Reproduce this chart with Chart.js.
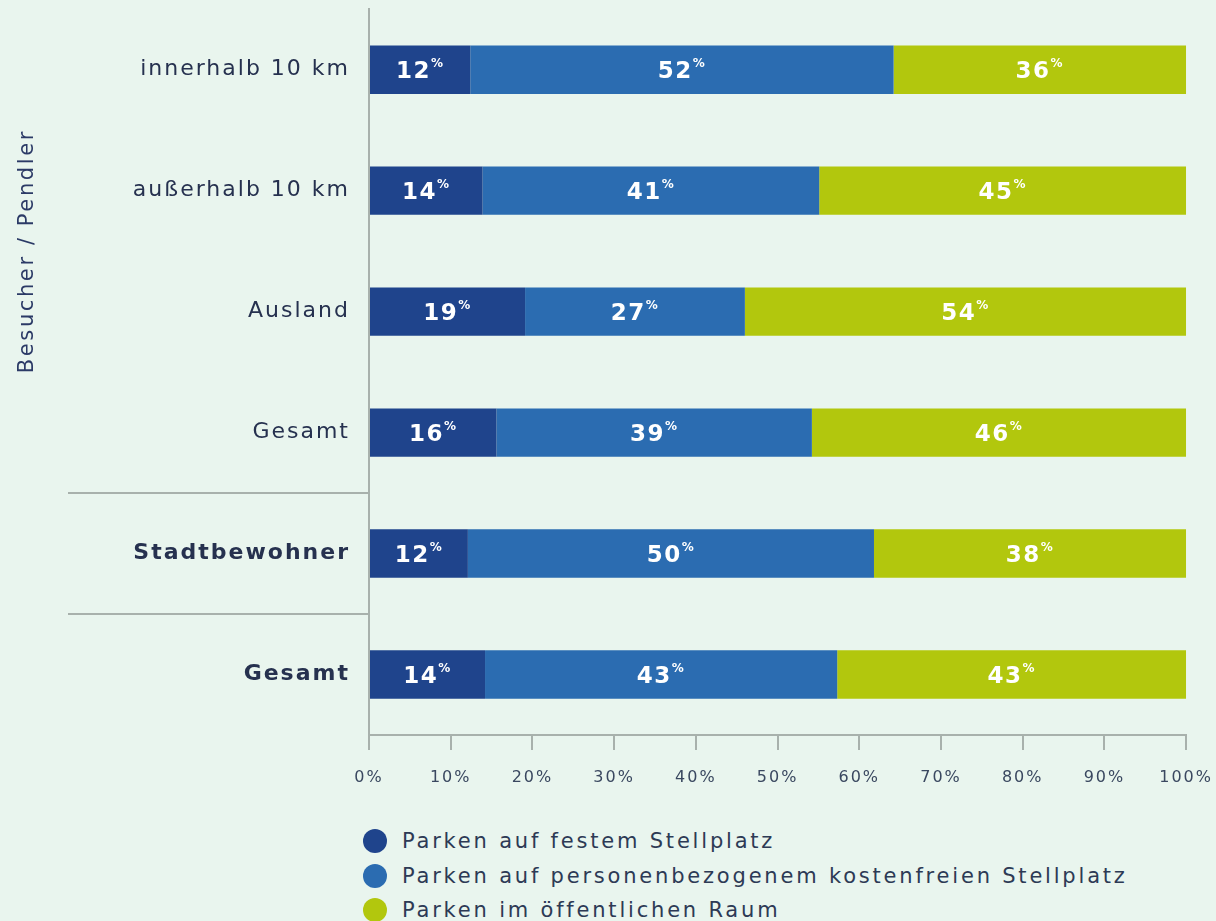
<!DOCTYPE html>
<html lang="de">
<head>
<meta charset="utf-8">
<title>Parkverhalten</title>
<script src="https://cdn.jsdelivr.net/npm/chart.js@4.4.1/dist/chart.umd.min.js"></script>
<style>
  html, body { margin: 0; padding: 0; background: #e9f5ee; }
  body { width: 1216px; height: 921px; position: relative; overflow: hidden; font-family: "DejaVu Sans", sans-serif; }
  #wrap { position: absolute; left: 0; top: -15px; width: 1231px; height: 818px; }
  #legend { position: absolute; left: 363px; top: 824px; list-style: none; margin: 0; padding: 0; }
  #legend li { display: flex; align-items: center; height: 34.5px; font-size: 21px; letter-spacing: 2.8px; color: #2d3a55; }
  #legend .dot { width: 24px; height: 24px; border-radius: 50%; margin-right: 15px; flex: none; }
</style>
</head>
<body>
<div id="wrap"><canvas id="chart" width="1231" height="818"></canvas></div>
<ul id="legend"></ul>
<script>
const categories = ["innerhalb 10 km", "außerhalb 10 km", "Ausland", "Gesamt", "Stadtbewohner", "Gesamt"];
const seriesNames = ["Parken auf festem Stellplatz", "Parken auf personenbezogenem kostenfreien Stellplatz", "Parken im öffentlichen Raum"];
const festerStellplatz = [12.4, 13.9, 19.1, 15.6, 12.1, 14.2];
const kostenfreierStellplatz = [51.8, 41.2, 26.9, 38.6, 49.7, 43.1];
const oeffentlicherRaum = [35.8, 44.9, 54.0, 45.8, 38.2, 42.7];
const xTicks = [0, 10, 20, 30, 40, 50, 60, 70, 80, 90, 100];
const groupTitle = "Besucher / Pendler";

const colors = ["#1f448c", "#2b6cb1", "#b2c70d"];
const axisGray = "#a8b1ac";
const textNavy = "#26314f";
const font = "'DejaVu Sans', sans-serif";

// spacing the letters a bit like the original typeface
const spacing = {
  id: "spacing",
  beforeLayout(chart) { chart.ctx.letterSpacing = "2px"; },
  beforeDraw(chart) { chart.ctx.letterSpacing = "2px"; }
};

// separators between the groups and the rotated group title
const groups = {
  id: "groups",
  afterDraw(chart) {
    const ctx = chart.ctx;
    const y = chart.scales.y;
    const area = chart.chartArea;
    const mid = i => (y.getPixelForTick(i) + y.getPixelForTick(i + 1)) / 2;
    ctx.save();
    ctx.strokeStyle = axisGray;
    ctx.lineWidth = 2;
    [3, 4].forEach(i => {
      const py = Math.round(mid(i));
      ctx.beginPath();
      ctx.moveTo(68, py);
      ctx.lineTo(area.left, py);
      ctx.stroke();
    });
    const cy = (area.top + mid(3)) / 2;
    ctx.translate(28, cy);
    ctx.rotate(-Math.PI / 2);
    ctx.fillStyle = "#2b3a66";
    ctx.font = "21px " + font;
    ctx.letterSpacing = "2.6px";
    ctx.textAlign = "center";
    ctx.textBaseline = "middle";
    ctx.fillText(groupTitle, 0, 0);
    ctx.restore();
  }
};

// white value labels with a small raised percent sign
const valueLabels = {
  id: "valueLabels",
  afterDatasetsDraw(chart) {
    const ctx = chart.ctx;
    ctx.save();
    ctx.fillStyle = "#ffffff";
    ctx.textBaseline = "alphabetic";
    ctx.textAlign = "left";
    ctx.letterSpacing = "1.5px";
    chart.data.datasets.forEach((ds, di) => {
      chart.getDatasetMeta(di).data.forEach((bar, i) => {
        const num = String(Math.round(ds.data[i]));
        ctx.font = "bold 23px " + font;
        const w1 = ctx.measureText(num).width;
        ctx.font = "bold 12px " + font;
        const w2 = ctx.measureText("%").width;
        const cx = (bar.x + bar.base) / 2;
        const x0 = cx - (w1 + w2) / 2;
        ctx.font = "bold 23px " + font;
        ctx.fillText(num, x0, bar.y + 8);
        ctx.font = "bold 12px " + font;
        ctx.fillText("%", x0 + w1, bar.y - 3);
      });
    });
    ctx.restore();
  }
};

const chart = new Chart(document.getElementById("chart"), {
  type: "bar",
  data: {
    labels: categories,
    datasets: [
      { label: seriesNames[0], data: festerStellplatz, backgroundColor: colors[0] },
      { label: seriesNames[1], data: kostenfreierStellplatz, backgroundColor: colors[1] },
      { label: seriesNames[2], data: oeffentlicherRaum, backgroundColor: colors[2] }
    ]
  },
  options: {
    indexAxis: "y",
    responsive: false,
    animation: false,
    categoryPercentage: 1,
    barPercentage: 0.4,
    layout: { padding: { top: 9, right: 18, left: 0, bottom: 0 } },
    plugins: {
      legend: { display: false },
      tooltip: { enabled: false }
    },
    scales: {
      x: {
        stacked: true,
        min: 0,
        max: 100,
        afterBuildTicks: scale => { scale.ticks = xTicks.map(v => ({ value: v })); },
        afterFit: scale => { scale.height = 68; },
        grid: { drawOnChartArea: false, drawTicks: true, tickLength: 15, color: axisGray, lineWidth: 2 },
        border: { display: true, color: axisGray, width: 2 },
        ticks: {
          padding: 18,
          color: "#3a4860",
          font: { family: font, size: 16 },
          callback: v => v + "%"
        }
      },
      y: {
        stacked: true,
        afterFit: scale => { scale.width = 369; },
        grid: { display: false },
        border: { display: true, color: axisGray, width: 2 },
        ticks: {
          padding: 11,
          color: textNavy,
          font: ctx => ({ family: font, size: 22, weight: ctx.index >= 4 ? "bold" : "normal" })
        }
      }
    }
  },
  plugins: [spacing, groups, valueLabels]
});

const legend = document.getElementById("legend");
chart.data.datasets.forEach(ds => {
  const li = document.createElement("li");
  li.innerHTML = `<span class="dot" style="background:${ds.backgroundColor}"></span>${ds.label}`;
  legend.appendChild(li);
});
</script>
</body>
</html>
